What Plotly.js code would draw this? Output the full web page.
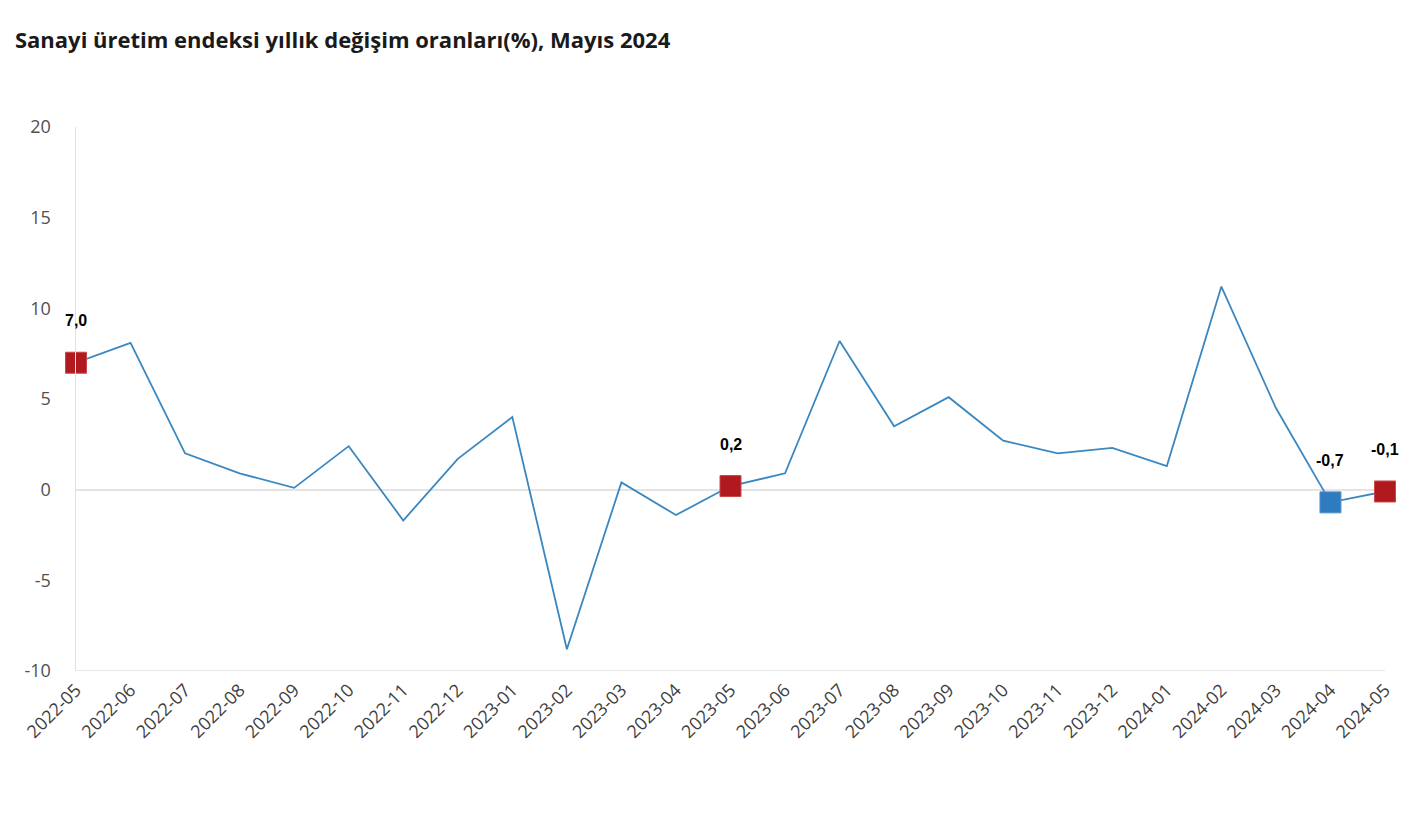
<!DOCTYPE html>
<html>
<head>
<meta charset="utf-8">
<script src="https://cdn.plot.ly/plotly-3.0.1.min.js"></script>
<style>html,body{margin:0;padding:0;background:#fff;}#chart{width:1427px;height:840px;}</style>
</head>
<body>
<div id="chart"></div>
<script>
const months = ["2022-05","2022-06","2022-07","2022-08","2022-09","2022-10","2022-11","2022-12",
  "2023-01","2023-02","2023-03","2023-04","2023-05","2023-06","2023-07","2023-08","2023-09",
  "2023-10","2023-11","2023-12","2024-01","2024-02","2024-03","2024-04","2024-05"];
const values = [7.0, 8.1, 2.0, 0.9, 0.1, 2.4, -1.7, 1.7, 4.0, -8.8, 0.4, -1.4, 0.2, 0.9, 8.2,
  3.5, 5.1, 2.7, 2.0, 2.3, 1.3, 11.2, 4.5, -0.7, -0.1];
const redPoints = ["2022-05","2023-05","2024-05"];
const bluePoints = ["2024-04"];
const yTicks = [-10, -5, 0, 5, 10, 15, 20];

const valOf = m => values[months.indexOf(m)];
const fmt = v => v.toFixed(1).replace('.', ',');

const traces = [
  {x: months, y: values, type: 'scatter', mode: 'lines', cliponaxis: false,
   line: {color: '#3a87c0', width: 1.8}, hoverinfo: 'x+y'},
  {x: redPoints, y: redPoints.map(valOf), type: 'scatter', mode: 'markers', cliponaxis: false,
   marker: {symbol: 'square', size: 21, color: '#b0191e', line: {color: '#c9484c', width: 1}}},
  {x: bluePoints, y: bluePoints.map(valOf), type: 'scatter', mode: 'markers', cliponaxis: false,
   marker: {symbol: 'square', size: 21, color: '#2e7bbf', line: {color: '#5394cc', width: 1}}}
];

const labelPts = redPoints.concat(bluePoints);
const annotations = labelPts.map(m => ({
  x: m, y: valOf(m), xref: 'x', yref: 'y', text: '<b>' + fmt(valOf(m)) + '</b>',
  showarrow: false, yshift: 42, xshift: 0,
  font: {family: 'Liberation Sans, Arial, sans-serif', size: 16, color: '#000'}
}));

const layout = {
  width: 1427, height: 840,
  paper_bgcolor: '#fff', plot_bgcolor: '#fff',
  margin: {l: 76, r: 42, t: 127, b: 169},
  showlegend: false,
  title: {text: '<b>Sanayi üretim endeksi yıllık değişim oranları(%), Mayıs 2024</b>',
    xref: 'container', yref: 'container', x: 0.0105, xanchor: 'left', y: 0.952, yanchor: 'middle',
    font: {family: 'Open Sans, Noto Sans, sans-serif', size: 22, color: '#1a1a1a'}},
  xaxis: {type: 'category', categoryarray: months, range: [0, months.length - 1],
    tickangle: -45, showgrid: false, zeroline: false, showline: false, ticks: '',
    ticklabelstandoff: 4,
    tickfont: {family: 'Open Sans, Noto Sans, sans-serif', size: 18, color: '#404040'}},
  yaxis: {range: [-10, 20], tickvals: yTicks, ticktext: yTicks.map(String),
    showgrid: false, zeroline: true, zerolinecolor: '#e4e4e4', zerolinewidth: 2,
    showline: true, linecolor: '#e0e0e0', linewidth: 1.5, ticks: '', ticklabelstandoff: 20,
    tickfont: {family: 'Open Sans, Noto Sans, sans-serif', size: 18, color: '#505050'}},
  shapes: [{type: 'line', xref: 'paper', yref: 'y', x0: 0, x1: 1, y0: -10, y1: -10,
    line: {color: '#e0e0e0', width: 1.5}}],
  annotations: annotations
};

Plotly.newPlot('chart', traces, layout, {displayModeBar: false, staticPlot: true});
</script>
</body>
</html>
